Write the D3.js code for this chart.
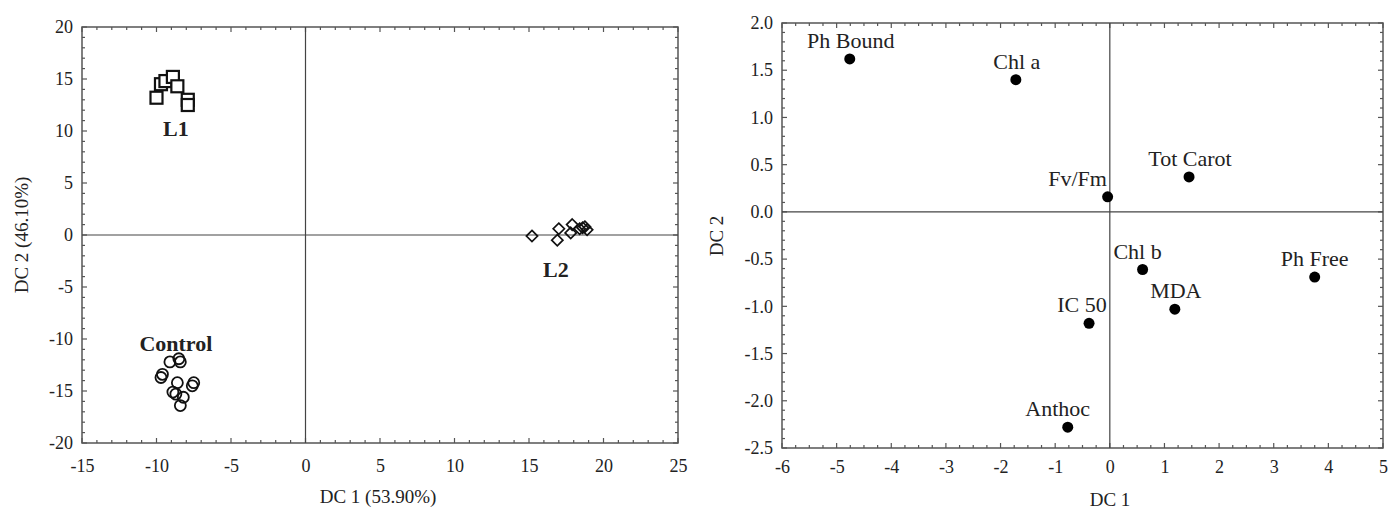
<!DOCTYPE html>
<html>
<head>
<meta charset="utf-8">
<script src="https://cdn.jsdelivr.net/npm/d3@7"></script>
<style>
  body { margin: 0; background: #fff; }
  text { font-family: "Liberation Serif", "DejaVu Serif", serif; fill: #222; }
</style>
</head>
<body>
<div class="chart"></div>
<script>
var width = 1388;
var height = 509;

// left panel: group scores
var l1Scores = [[-10.0, 13.2], [-9.7, 14.5], [-9.4, 14.8], [-8.9, 15.2], [-8.6, 14.3], [-7.9, 13.0], [-7.9, 12.5]];
var l2Scores = [[15.2, -0.1], [16.9, -0.5], [17.0, 0.6], [17.8, 0.2], [17.9, 1.0], [18.4, 0.6], [18.6, 0.7], [18.75, 0.8], [18.9, 0.5]];
var controlScores = [[-9.1, -12.2], [-8.4, -12.2], [-8.5, -11.9], [-9.7, -13.7], [-9.6, -13.4], [-8.6, -14.2],
                     [-7.6, -14.5], [-7.5, -14.2], [-8.9, -15.1], [-8.7, -15.3], [-8.2, -15.6], [-8.4, -16.4]];
var groupNames = ["L1", "L2", "Control"];
var groupLabelAt = [[-8.7, 9.5], [16.8, -4.0], [-8.7, -11.2]];

// right panel: variable loadings
var varNames = ["Ph Bound", "Chl a", "Tot Carot", "Fv/Fm", "Chl b", "Ph Free", "MDA", "IC 50", "Anthoc"];
var dc1 = [-4.76, -1.72, 1.45, -0.04, 0.60, 3.75, 1.19, -0.38, -0.77];
var dc2 = [1.62, 1.40, 0.37, 0.16, -0.61, -0.69, -1.03, -1.18, -2.28];

var leftXTicks = [-15, -10, -5, 0, 5, 10, 15, 20, 25];
var leftYTicks = [-20, -15, -10, -5, 0, 5, 10, 15, 20];
var rightXTicks = [-6, -5, -4, -3, -2, -1, 0, 1, 2, 3, 4, 5];
var rightYTicks = [-2.5, -2, -1.5, -1, -0.5, 0, 0.5, 1, 1.5, 2];

// label offsets in px from the dot
var labelPos = {
  "Ph Bound": [1, -11], "Chl a": [1, -11], "Tot Carot": [1, -11],
  "Fv/Fm": [-30, -11], "Chl b": [-5, -11], "Ph Free": [0, -11],
  "MDA": [1, -11], "IC 50": [-7, -11], "Anthoc": [-10, -11]
};

var svg = d3.select(".chart").append("svg")
    .attr("width", width)
    .attr("height", height);

function hyphen(f) {
  return function(d) { return f(d).replace("\u2212", "-"); };
}

function frame(x, y, xTicks, yTicks, xMinor, yMinor, xFmt, yFmt, xPad) {
  var g = svg.append("g");
  var x0 = x.range()[0], x1 = x.range()[1], y0 = y.range()[0], y1 = y.range()[1];

  // minor ticks on all four sides, pointing inward
  var xm = d3.range(x.domain()[0], x.domain()[1] + 1e-9, xMinor);
  var ym = d3.range(y.domain()[0], y.domain()[1] + 1e-9, yMinor);
  var ticks = g.append("g").attr("stroke", "#555").attr("stroke-width", 1.2);
  xm.forEach(function(v) {
    var major = xTicks.some(function(t) { return Math.abs(t - v) < 1e-6; });
    var len = major ? 5 : 3;
    ticks.append("line").attr("x1", x(v)).attr("x2", x(v)).attr("y1", y0).attr("y2", y0 - len);
    ticks.append("line").attr("x1", x(v)).attr("x2", x(v)).attr("y1", y1).attr("y2", y1 + len);
  });
  ym.forEach(function(v) {
    var major = yTicks.some(function(t) { return Math.abs(t - v) < 1e-6; });
    var len = major ? 5 : 3;
    ticks.append("line").attr("y1", y(v)).attr("y2", y(v)).attr("x1", x0).attr("x2", x0 + len);
    ticks.append("line").attr("y1", y(v)).attr("y2", y(v)).attr("x1", x1).attr("x2", x1 - len);
  });

  g.append("rect")
      .attr("x", x0).attr("y", y1)
      .attr("width", x1 - x0).attr("height", y0 - y1)
      .attr("fill", "none").attr("stroke", "#555").attr("stroke-width", 1.5);

  // zero lines
  g.append("line").attr("x1", x(0)).attr("x2", x(0)).attr("y1", y0).attr("y2", y1)
      .attr("stroke", "#444").attr("stroke-width", 1.2);
  g.append("line").attr("x1", x0).attr("x2", x1).attr("y1", y(0)).attr("y2", y(0))
      .attr("stroke", "#444").attr("stroke-width", 1.2);

  var xAxis = d3.axisBottom(x).tickValues(xTicks).tickSize(0).tickPadding(xPad).tickFormat(hyphen(xFmt));
  var yAxis = d3.axisLeft(y).tickValues(yTicks).tickSize(0).tickPadding(9).tickFormat(hyphen(yFmt));
  g.append("g").attr("transform", "translate(0," + y0 + ")").call(xAxis)
      .attr("font-family", "Liberation Serif").attr("font-size", 18)
      .call(function(s) { s.select(".domain").remove(); })
      .selectAll("text").attr("fill", "#222");
  g.append("g").attr("transform", "translate(" + x0 + ",0)").call(yAxis)
      .attr("font-family", "Liberation Serif").attr("font-size", 18)
      .call(function(s) { s.select(".domain").remove(); })
      .selectAll("text").attr("fill", "#222");
  return g;
}

// ---- left panel
var xL = d3.scaleLinear().domain([-15, 25]).range([82, 678]);
var yL = d3.scaleLinear().domain([-20, 20]).range([443, 27]);
frame(xL, yL, leftXTicks, leftYTicks, 1, 1, d3.format("d"), d3.format("d"), 16);

var marks = svg.append("g").attr("fill", "none").attr("stroke", "#111");
marks.selectAll(".sq").data(l1Scores).enter().append("rect")
    .attr("x", function(d) { return xL(d[0]) - 6; })
    .attr("y", function(d) { return yL(d[1]) - 6; })
    .attr("width", 12).attr("height", 12)
    .attr("fill", "#fff")
    .attr("stroke-width", 2.2);
marks.selectAll(".dm").data(l2Scores).enter().append("path")
    .attr("d", d3.symbol().type(d3.symbolDiamond2).size(80))
    .attr("transform", function(d) { return "translate(" + xL(d[0]) + "," + yL(d[1]) + ")"; })
    .attr("stroke-width", 1.7);
marks.selectAll(".ci").data(controlScores).enter().append("circle")
    .attr("cx", function(d) { return xL(d[0]); })
    .attr("cy", function(d) { return yL(d[1]); })
    .attr("r", 5.5)
    .attr("stroke-width", 1.8);

svg.append("g").selectAll("text").data(groupNames).enter().append("text")
    .attr("x", function(d, i) { return xL(groupLabelAt[i][0]); })
    .attr("y", function(d, i) { return yL(groupLabelAt[i][1]); })
    .attr("text-anchor", "middle")
    .style("font-size", "22px").style("font-weight", "bold")
    .text(function(d) { return d; });

svg.append("text").attr("x", 378).attr("y", 503).attr("text-anchor", "middle")
    .style("font-size", "19px").text("DC 1 (53.90%)");
svg.append("text").attr("transform", "translate(28,235) rotate(-90)").attr("text-anchor", "middle")
    .style("font-size", "19px").text("DC 2 (46.10%)");

// ---- right panel
var xR = d3.scaleLinear().domain([-6, 5]).range([782, 1383]);
var yR = d3.scaleLinear().domain([-2.5, 2]).range([448, 23]);
frame(xR, yR, rightXTicks, rightYTicks, 0.25, 0.1, d3.format("d"), d3.format(".1f"), 12);

var pts = svg.append("g");
pts.selectAll("circle").data(varNames).enter().append("circle")
    .attr("cx", function(d, i) { return xR(dc1[i]); })
    .attr("cy", function(d, i) { return yR(dc2[i]); })
    .attr("r", 5.5)
    .attr("fill", "#000");
pts.selectAll("text").data(varNames).enter().append("text")
    .attr("x", function(d, i) { return xR(dc1[i]) + labelPos[d][0]; })
    .attr("y", function(d, i) { return yR(dc2[i]) + labelPos[d][1]; })
    .attr("text-anchor", "middle")
    .style("font-size", "22px")
    .text(function(d) { return d; });

svg.append("text").attr("x", 1110).attr("y", 506).attr("text-anchor", "middle")
    .style("font-size", "19px").text("DC 1");
svg.append("text").attr("transform", "translate(723,236) rotate(-90)").attr("text-anchor", "middle")
    .style("font-size", "19px").text("DC 2");
</script>
</body>
</html>
